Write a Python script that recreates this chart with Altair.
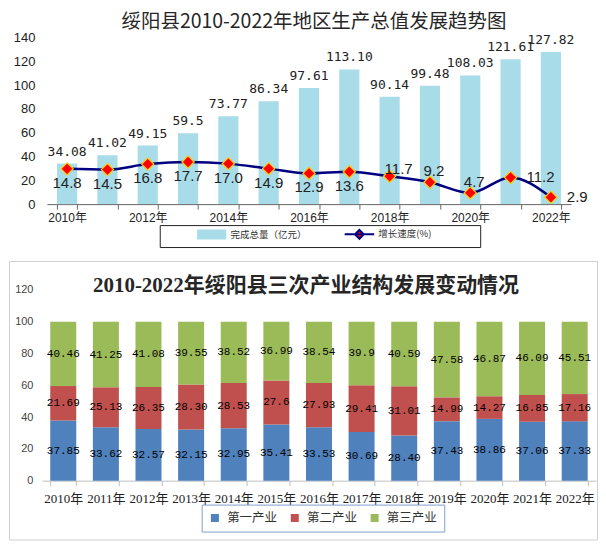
import altair as alt
import pandas as pd

# ---------------- data ----------------
years = [str(y) for y in range(2010, 2023)]
gdp = ["34.08", "41.02", "49.15", "59.5", "73.77", "86.34", "97.61",
       "113.10", "90.14", "99.48", "108.03", "121.61", "127.82"]
growth = ["14.8", "14.5", "16.8", "17.7", "17.0", "14.9", "12.9",
          "13.6", "11.7", "9.2", "4.7", "11.2", "2.9"]
primary = ["37.85", "33.62", "32.57", "32.15", "32.95", "35.41", "33.53",
           "30.69", "28.40", "37.43", "38.86", "37.06", "37.33"]
secondary = ["21.69", "25.13", "26.35", "28.30", "28.53", "27.6", "27.93",
             "29.41", "31.01", "14.99", "14.27", "16.85", "17.16"]
tertiary = ["40.46", "41.25", "41.08", "39.55", "38.52", "36.99", "38.54",
            "39.9", "40.59", "47.58", "46.87", "46.09", "45.51"]
industries = ["第一产业", "第二产业", "第三产业"]
top_series = ["完成总量（亿元）", "增长速度(%)"]

top_title = "绥阳县2010-2022年地区生产总值发展趋势图"
bot_title = "2010-2022年绥阳县三次产业结构发展变动情况"

# label placement groups for growth-rate labels
below_years = years[:8]
above_years = ["2019", "2020"]
upright_years = ["2018"]
right_years = ["2021", "2022"]

# ---------------- styles ----------------
CJK = "Noto Sans CJK SC"
SANS = "Liberation Sans, Noto Sans CJK SC"
SERIF = "Liberation Serif, Noto Sans CJK SC"
BAR_BLUE = "#a9dce9"
NAVY = "#000080"
ind_colors = ["#4F81BD", "#C0504D", "#9BBB59"]

# ---------------- top chart ----------------
top_df = pd.DataFrame({
    "year": years,
    "gdp": [float(v) for v in gdp],
    "gdp_lab": gdp,
    "growth": [float(v) for v in growth],
    "growth_lab": growth,
})

x_top = alt.X(
    "year:N", title=None,
    scale=alt.Scale(range=[38, 563], paddingInner=0.5, paddingOuter=0.25),
    axis=alt.Axis(labelAngle=0,
                  labelExpr="(datum.value != null && toNumber(datum.value) % 2 == 0) ? datum.value + '年' : ''",
                  tickBand="extent", domainColor="#666", tickColor="#666",
                  tickSize=5, labelPadding=3, labelFont=SANS, labelFontSize=12,
                  labelColor="#222", grid=False),
)
y_gdp = alt.Y(
    "gdp:Q", title=None, scale=alt.Scale(domain=[0, 140], range=[196, 29]),
    axis=alt.Axis(values=list(range(0, 141, 20)), domain=False, ticks=False,
                  grid=False, labelPadding=12, offset=-38,
                  labelFont=SANS, labelFontSize=13, labelColor="#222"),
)
y_rate = alt.Y("growth:Q", title=None, scale=alt.Scale(domain=[0, 70], range=[196, 29]),
               axis=None)

bars = alt.Chart(top_df).mark_bar(color=BAR_BLUE).encode(x=x_top, y=y_gdp)
bar_txt = alt.Chart(top_df).mark_text(
    baseline="bottom", dy=-5, font="DejaVu Sans Mono", fontSize=13, color="#222"
).encode(x=x_top, y=y_gdp, text="gdp_lab:N")

line = alt.Chart(top_df).mark_line(
    color=NAVY, strokeWidth=2.5, interpolate="monotone"
).encode(x=x_top, y=y_rate)
pts = alt.Chart(top_df).mark_point(
    shape="diamond", filled=True, fill="#ff0000", stroke="#ffcc00",
    strokeWidth=1.2, size=150, opacity=1
).encode(x=x_top, y=y_rate)


def rate_labels(yrs, **kw):
    return alt.Chart(top_df).transform_filter(
        alt.FieldOneOfPredicate(field="year", oneOf=yrs)
    ).mark_text(font="Liberation Sans", fontSize=15, color="#222", **kw).encode(
        x=x_top, y=y_rate, text="growth_lab:N")


lab_below = rate_labels(below_years, dy=14)
lab_above = rate_labels(above_years, dy=-11, dx=4)
lab_upright = rate_labels(upright_years, dy=-7, dx=9)
lab_right = rate_labels(right_years, align="left", dx=16)

top_legend = alt.Legend(
    title="–", titleOrient="right", titleOpacity=0, titlePadding=39, titleFontSize=9.5,
    orient="none", legendX=151, legendY=217, direction="horizontal",
    strokeColor="#222", padding=4, symbolSize=64, symbolOpacity=1,
    symbolStrokeWidth=2, labelFont=CJK, labelFontSize=9.5, labelColor="#333",
    columnPadding=4, labelOffset=14, symbolOffset=43,
)
rect_path = "M-3.4,-1H3.4V1H-3.4Z"
line_path = "M-3.7,0H3.7M0,-1.1L1.1,0L0,1.1L-1.1,0Z"
leg_df = pd.DataFrame({
    "series": top_series,
    "year": [years[0]] * 2,
    "growth": [float(growth[0])] * 2,
})
leg_layer = alt.Chart(leg_df).mark_point(filled=True, opacity=0).encode(
    x=x_top, y=y_rate,
    color=alt.Color("series:N", scale=alt.Scale(domain=top_series, range=[BAR_BLUE, "#ff0000"]),
                    legend=top_legend),
    stroke=alt.Stroke("series:N", scale=alt.Scale(domain=top_series, range=[BAR_BLUE, NAVY]),
                      legend=top_legend),
    shape=alt.Shape("series:N", scale=alt.Scale(domain=top_series, range=[rect_path, line_path]),
                    legend=top_legend),
)

top = alt.layer(
    alt.layer(bars, bar_txt),
    alt.layer(line, pts, lab_below, lab_above, lab_upright, lab_right, leg_layer),
).resolve_scale(y="independent").properties(
    width=563, height=196,
    title=alt.TitleParams(top_title, font=CJK, fontSize=19.5, fontWeight="normal",
                          color="#262626", offset=-43, baseline="bottom",
                          anchor="middle", dx=24),
)

# ---------------- bottom chart ----------------
rows = []
for i, yr in enumerate(years):
    for k, vals in enumerate([primary, secondary, tertiary]):
        rows.append({"year": yr, "ind": industries[k], "k": k,
                     "v": float(vals[i]), "lab": vals[i]})
bot_df = pd.DataFrame(rows)

x_bot = alt.X(
    "year:N", title=None,
    scale=alt.Scale(range=[33, 588], paddingInner=0.39, paddingOuter=0.195),
    axis=alt.Axis(labelAngle=0, labelExpr="datum.value != null ? datum.value + '年' : ''",
                  tickBand="extent",
                  offset=-59, domainColor="#bfbfbf", tickColor="#bfbfbf", tickSize=5,
                  labelPadding=7, labelFont=SERIF, labelFontSize=13, labelColor="#222",
                  grid=False),
)
bot_axis = alt.Axis(values=list(range(0, 121, 20)), offset=-33, domain=False,
                    ticks=False, grid=False, labelPadding=9, labelFont="Liberation Sans",
                    labelFontSize=11, labelColor="#444")
bot_scale = alt.Scale(domain=[0, 120], range=[220, 29])

bot_legend = alt.Legend(
    title=None, orient="none", legendX=193, legendY=244, direction="horizontal",
    strokeColor="#7f9fcf", padding=7, symbolType="square",
    symbolSize=64, labelFont=CJK, labelFontSize=12.5, labelColor="#333",
    columnPadding=11, labelOffset=6,
)

sbars = alt.Chart(bot_df).mark_bar().encode(
    x=x_bot,
    y=alt.Y("v:Q", stack="zero", title=None, scale=bot_scale, axis=bot_axis),
    color=alt.Color("ind:N", scale=alt.Scale(domain=industries, range=ind_colors),
                    legend=bot_legend),
    order=alt.Order("k:Q", sort="ascending"),
)
stxt = alt.Chart(bot_df).transform_stack(
    stack="v", as_=["v0", "v1"], groupby=["year"], sort=[alt.SortField("k")]
).transform_calculate(mid="(datum.v0 + datum.v1) / 2").mark_text(
    font="Liberation Mono", fontSize=11, color="#000"
).encode(
    x=x_bot,
    y=alt.Y("mid:Q", stack=None, title=None, scale=bot_scale, axis=bot_axis),
    text="lab:N",
)

bottom = alt.layer(sbars, stxt).properties(
    width=589, height=279,
    view=alt.ViewBackground(stroke="#d0d0d0", strokeWidth=1),
    title=alt.TitleParams(bot_title, font=SERIF, fontSize=21, fontWeight="bold",
                          color="#262626", offset=-56, baseline="bottom",
                          anchor="middle", dx=3),
)

chart = alt.vconcat(top, bottom, spacing=12).resolve_scale(
    color="independent", stroke="independent", shape="independent", x="independent"
).resolve_legend(
    color="independent", stroke="independent", shape="independent"
).properties(padding=0).configure_view(stroke=None)

chart.save("out.html", embed_options={"renderer": "svg", "actions": False})
